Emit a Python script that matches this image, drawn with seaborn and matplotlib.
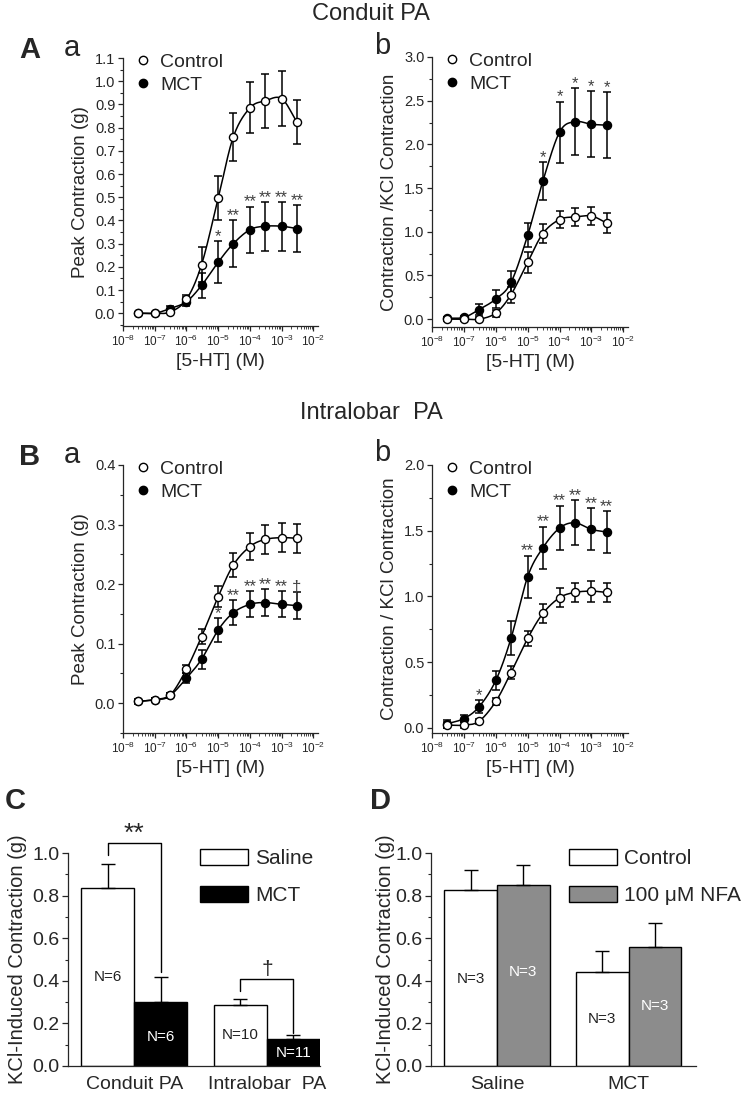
import numpy as np
import pandas as pd
import seaborn as sns
import matplotlib.pyplot as plt
from matplotlib.lines import Line2D
from matplotlib.patches import Patch
from matplotlib.ticker import LogLocator, MultipleLocator, NullFormatter

# concentrations of 5-HT (M)
conc = [3e-8, 1e-7, 3e-7, 1e-6, 3e-6, 1e-5, 3e-5, 1e-4, 3e-4, 1e-3, 3e-3]

# A a: conduit PA, peak contraction (g)
aa_ctrl = [0.0, 0.0, 0.005, 0.06, 0.21, 0.495, 0.76, 0.885, 0.915, 0.925, 0.825]
aa_ctrl_err = [0.005, 0.005, 0.006, 0.02, 0.075, 0.095, 0.105, 0.11, 0.115, 0.12, 0.095]
aa_mct = [0.0, 0.0, 0.02, 0.05, 0.12, 0.22, 0.30, 0.36, 0.375, 0.375, 0.365]
aa_mct_err = [0.005, 0.005, 0.01, 0.02, 0.055, 0.09, 0.10, 0.10, 0.105, 0.105, 0.10]
aa_marks = ['', '', '', '', '', '*', '**', '**', '**', '**', '**']

# A b: conduit PA, contraction / KCl contraction
ab_ctrl = [0.0, 0.0, 0.0, 0.07, 0.28, 0.65, 0.98, 1.14, 1.17, 1.18, 1.10]
ab_ctrl_err = [0.02, 0.02, 0.02, 0.04, 0.09, 0.12, 0.11, 0.10, 0.10, 0.10, 0.11]
ab_mct = [0.01, 0.02, 0.11, 0.23, 0.42, 0.96, 1.58, 2.14, 2.26, 2.23, 2.22]
ab_mct_err = [0.02, 0.02, 0.06, 0.10, 0.13, 0.14, 0.22, 0.35, 0.38, 0.38, 0.38]
ab_marks = ['', '', '', '', '', '', '*', '*', '*', '*', '*']

# B a: intralobar PA, peak contraction (g)
ba_ctrl = [0.003, 0.006, 0.013, 0.057, 0.112, 0.179, 0.232, 0.263, 0.275, 0.278, 0.277]
ba_ctrl_err = [0.004, 0.003, 0.004, 0.007, 0.012, 0.017, 0.02, 0.022, 0.024, 0.024, 0.024]
ba_mct = [0.003, 0.006, 0.013, 0.042, 0.074, 0.123, 0.152, 0.166, 0.169, 0.166, 0.164]
ba_mct_err = [0.003, 0.003, 0.004, 0.008, 0.016, 0.02, 0.021, 0.022, 0.022, 0.022, 0.022]
ba_marks = ['', '', '', '', '', '*', '**', '**', '**', '**', '\u2020']

# B b: intralobar PA, contraction / KCl contraction
bb_ctrl = [0.02, 0.02, 0.05, 0.20, 0.42, 0.68, 0.87, 0.99, 1.03, 1.04, 1.03]
bb_ctrl_err = [0.02, 0.02, 0.02, 0.03, 0.05, 0.06, 0.07, 0.07, 0.07, 0.08, 0.07]
bb_mct = [0.03, 0.07, 0.16, 0.36, 0.68, 1.15, 1.37, 1.52, 1.56, 1.51, 1.49]
bb_mct_err = [0.03, 0.03, 0.05, 0.07, 0.13, 0.16, 0.16, 0.17, 0.17, 0.16, 0.16]
bb_marks = ['', '', '*', '', '', '**', '**', '**', '**', '**', '**']

# C: KCl-induced contraction
c_groups = ['Conduit PA', 'Intralobar  PA']
c_hues = ['Saline', 'MCT']
c_vals = [0.835, 0.30, 0.285, 0.125]
c_errs = [0.115, 0.12, 0.03, 0.02]
c_n = ['N=6', 'N=6', 'N=10', 'N=11']
c_n_y = [0.42, 0.135, 0.145, 0.06]
c_brk_top = [1.045, 0.41]
c_brk_legs = [(0.99, 0.44), (0.35, 0.155)]
c_brk_marks = ['**', '\u2020']

# D: KCl-induced contraction with NFA
d_groups = ['Saline', 'MCT']
d_hues = ['Control', '100 \u03bcM NFA']
d_vals = [0.825, 0.848, 0.44, 0.56]
d_errs = [0.095, 0.095, 0.10, 0.11]
d_n = ['N=3', 'N=3', 'N=3', 'N=3']
d_n_y = [0.41, 0.44, 0.22, 0.28]

sns.set_theme(style='ticks')
plt.rcParams['font.family'] = ['Liberation Sans', 'DejaVu Sans']
plt.rcParams['axes.linewidth'] = 0.9
plt.rcParams['mathtext.fontset'] = 'custom'
plt.rcParams['mathtext.rm'] = 'Liberation Sans'


def smooth(xs, ys, n=24):
    # catmull-rom curve in log10(x)
    P = np.column_stack([np.log10(xs), np.asarray(ys, float)])
    P = np.vstack([2 * P[0] - P[1], P, 2 * P[-1] - P[-2]])
    t = np.linspace(0, 1, n, endpoint=False)[:, None]
    out = []
    for i in range(1, len(P) - 2):
        p0, p1, p2, p3 = P[i - 1], P[i], P[i + 1], P[i + 2]
        out.append(0.5 * (2 * p1 + (-p0 + p2) * t + (2 * p0 - 5 * p1 + 4 * p2 - p3) * t ** 2
                          + (-p0 + 3 * p1 - 3 * p2 + p3) * t ** 3))
    out.append(P[-2][None, :])
    out = np.vstack(out)
    return 10 ** out[:, 0], out[:, 1]


def curve_panel(ax, ctrl, ctrl_err, mct, mct_err, marks, ylim, major, ylabel):
    for vals, errs in [(mct, mct_err), (ctrl, ctrl_err)]:
        sx, sy = smooth(conc, vals)
        sns.lineplot(x=sx, y=sy, ax=ax, color='black', lw=1.1, sort=False, estimator=None)
        ax.errorbar(conc, vals, yerr=errs, fmt='none', ecolor='black', elinewidth=1.1,
                    capsize=3, capthick=1.1, zorder=3)
    for vals, face in [(mct, 'black'), (ctrl, 'white')]:
        sns.scatterplot(x=conc, y=vals, ax=ax, marker='o', s=34, color=face,
                        edgecolor='black', linewidth=1.0, zorder=4)
    for x, v, e, m in zip(conc, mct, mct_err, marks):
        if m:
            ax.annotate(m, (x, v + e), xytext=(0, -2), textcoords='offset points',
                        ha='center', va='bottom', fontsize=12, color='#404040')
    ax.set_xscale('log')
    ax.set_xlim(1e-8, 1.4e-2)
    ax.set_ylim(*ylim)
    ax.xaxis.set_major_locator(LogLocator(base=10, numticks=10))
    ax.xaxis.set_minor_locator(LogLocator(base=10, subs=np.arange(2, 10), numticks=20))
    ax.xaxis.set_minor_formatter(NullFormatter())
    ax.set_xticks([1e-8, 1e-7, 1e-6, 1e-5, 1e-4, 1e-3, 1e-2])
    ax.yaxis.set_major_locator(MultipleLocator(major))
    ax.yaxis.set_minor_locator(MultipleLocator(major / 2))
    ax.yaxis.set_major_formatter(plt.FuncFormatter(lambda v, p: f'{v:.1f}'))
    ax.tick_params(axis='x', which='major', labelsize=8.5, length=3.5, width=0.9, pad=2)
    ax.tick_params(axis='x', which='minor', length=2, width=0.6)
    ax.tick_params(axis='y', which='major', labelsize=10.5, length=3.5, width=0.9, pad=2)
    ax.tick_params(axis='y', which='minor', length=2, width=0.8)
    ax.set_xlabel('[5-HT] (M)', fontsize=14, labelpad=3)
    ax.set_ylabel(ylabel, fontsize=13.5, labelpad=4)
    sns.despine(ax=ax)
    handles = [Line2D([], [], ls='none', marker='o', ms=6, mfc='white', mec='black', mew=1),
               Line2D([], [], ls='none', marker='o', ms=6, mfc='black', mec='black', mew=1)]
    ax.legend(handles, ['Control', 'MCT'], loc='upper left', bbox_to_anchor=(0.0, 1.06),
              frameon=False, fontsize=14, handlelength=0.9, handletextpad=0.4,
              labelspacing=0.25, borderaxespad=0.2)


def bar_panel(ax, groups, hues, vals, errs, colors, ns, ns_y, ncolors, xlim, ylabel, labelpad):
    df = pd.DataFrame({'group': np.repeat(groups, 2), 'cond': hues * len(groups), 'val': vals})
    sns.barplot(data=df, x='group', y='val', hue='cond', order=groups, hue_order=hues,
                palette=colors, edgecolor='black', linewidth=1.0, errorbar=None,
                width=0.8, legend=False, ax=ax, saturation=1)
    bars = sorted(ax.patches, key=lambda p: p.get_x())
    xs = [p.get_x() + p.get_width() / 2 for p in bars]
    ax.errorbar(xs, vals, yerr=[np.zeros(len(vals)), errs], fmt='none', ecolor='black',
                elinewidth=1.0, capsize=5, capthick=1.0, zorder=1)
    for x, label, y, col in zip(xs, ns, ns_y, ncolors):
        ax.text(x, y, label, ha='center', va='center', fontsize=11, color=col)
    ax.set_xlim(*xlim)
    ax.set_ylim(0, 1.0)
    ax.yaxis.set_major_locator(MultipleLocator(0.2))
    ax.yaxis.set_minor_locator(MultipleLocator(0.1))
    ax.yaxis.set_major_formatter(plt.FuncFormatter(lambda v, p: f'{v:.1f}'))
    ax.tick_params(axis='y', which='major', labelsize=14, length=4, width=0.9, pad=2)
    ax.tick_params(axis='y', which='minor', length=2.5, width=0.8)
    ax.tick_params(axis='x', length=0, labelsize=14, pad=7)
    ax.set_xlabel('')
    ax.set_ylabel(ylabel, fontsize=14.5, labelpad=labelpad)
    sns.despine(ax=ax)
    handles = [Patch(facecolor=c, edgecolor='black', linewidth=1.0) for c in colors]
    ax.legend(handles, hues, loc='upper left', bbox_to_anchor=(0.49, 1.06), frameon=False,
              fontsize=15, handlelength=2.3, handleheight=0.85, handletextpad=0.35,
              labelspacing=0.85, borderaxespad=0.0)
    return xs


W, H = 742, 1096
fig = plt.figure(figsize=(W / 100, H / 100), dpi=100)


def box(l, t, r, b):
    return [l / W, 1 - b / H, (r - l) / W, (b - t) / H]


ax_aa = fig.add_axes(box(123, 58, 318, 326))
ax_ab = fig.add_axes(box(432, 57, 628, 327))
ax_ba = fig.add_axes(box(123, 465, 318, 733))
ax_bb = fig.add_axes(box(432, 465, 628, 733))
ax_c = fig.add_axes(box(68, 853, 320, 1066))
ax_d = fig.add_axes(box(431, 853, 696, 1066))

curve_panel(ax_aa, aa_ctrl, aa_ctrl_err, aa_mct, aa_mct_err, aa_marks, (-0.055, 1.1), 0.1,
            'Peak Contraction (g)')
curve_panel(ax_ab, ab_ctrl, ab_ctrl_err, ab_mct, ab_mct_err, ab_marks, (-0.09, 3.0), 0.5,
            'Contraction /KCl Contraction')
curve_panel(ax_ba, ba_ctrl, ba_ctrl_err, ba_mct, ba_mct_err, ba_marks, (-0.05, 0.4), 0.1,
            'Peak Contraction (g)')
curve_panel(ax_bb, bb_ctrl, bb_ctrl_err, bb_mct, bb_mct_err, bb_marks, (-0.04, 2.0), 0.5,
            'Contraction / KCl Contraction')

xs_c = bar_panel(ax_c, c_groups, c_hues, c_vals, c_errs, ['white', 'black'], c_n, c_n_y,
                 ['#222222', 'white', '#222222', 'white'], (-0.5, 1.4),
                 'KCl-Induced Contraction (g)', 4)
bar_panel(ax_d, d_groups, d_hues, d_vals, d_errs, ['white', '#8c8c8c'], d_n, d_n_y,
          ['#222222', 'white', '#222222', 'white'], (-0.5, 1.51),
          'KCl-Induced Contraction (g)', 0)

# significance brackets in C
for i, (top, (l0, l1), m) in enumerate(zip(c_brk_top, c_brk_legs, c_brk_marks)):
    x0, x1 = xs_c[2 * i], xs_c[2 * i + 1]
    ax_c.plot([x0, x0, x1, x1], [l0, top, top, l1], color='black', lw=1.0, clip_on=False)
    ax_c.text((x0 + x1) / 2, top + 0.045, m, ha='center', va='center',
              fontsize=19 if m == '**' else 15, clip_on=False)

# titles and panel letters
fig.text(371 / W, 1 - 14 / H, 'Conduit PA', ha='center', va='center', fontsize=17)
fig.text(371 / W, 1 - 413 / H, 'Intralobar  PA', ha='center', va='center', fontsize=17)
for x, y, s, w in [(30, 50, 'A', 'bold'), (72, 48, 'a', 'normal'), (382, 46, 'b', 'normal'),
                   (30, 457, 'B', 'bold'), (72, 455, 'a', 'normal'), (382, 453, 'b', 'normal'),
                   (15, 801, 'C', 'bold'), (380, 801, 'D', 'bold')]:
    fig.text(x / W, 1 - y / H, s, ha='center', va='center', fontsize=21, fontweight=w)

fig.savefig('out.png', dpi=100)
